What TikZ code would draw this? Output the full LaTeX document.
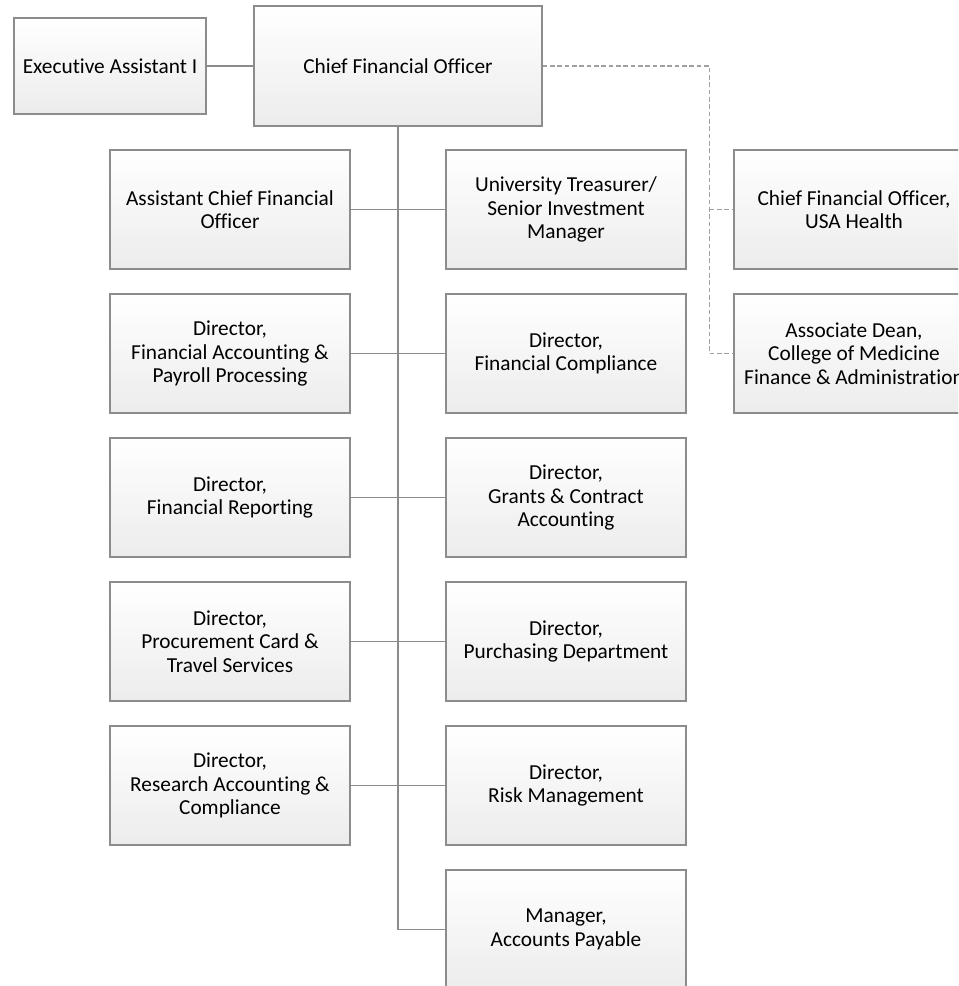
\documentclass[tikz,border=0pt]{standalone}
\usepackage{fontspec}
\setmainfont{Carlito}[Ligatures=NoCommon]
\usepackage{xcolor}
\usetikzlibrary{calc,positioning}
\definecolor{boxline}{HTML}{8C8C8C}
\definecolor{boxlow}{HTML}{ECECEC}
\definecolor{dashline}{HTML}{A0A0A0}
\begin{document}
\begin{tikzpicture}[x=0.75pt,y=-0.75pt,
		post/.style={draw=boxline,line width=0.9pt,top color=white,bottom color=boxlow,
			minimum width=180pt,minimum height=89.25pt,inner sep=2pt,align=center,
			font=\fontsize{16}{17.5}\selectfont},
		link/.style={draw=boxline,line width=0.9pt},
		dotlink/.style={draw=dashline,line width=0.9pt,dash pattern=on 3.5pt off 2pt}]
		\clip (0,0) rectangle (958,986);
		\useasboundingbox (0,0) rectangle (958,986);
		% top row
		\node[post,minimum width=144pt,minimum height=72pt] (exec) at (110,66) {Executive Assistant I};
		\node[post,minimum width=216pt,minimum height=90pt] (cfo) at (398,66) {Chief Financial Officer};
		% left column
		\node[post] (acfo) at (230,209.5) {Assistant Chief Financial\\Officer};
		\node[post] (facct) at (230,353.5) {Director,\\Financial Accounting \&\\Payroll Processing};
		\node[post] (frep) at (230,497.5) {Director,\\Financial Reporting};
		\node[post] (pcard) at (230,641.5) {Director,\\Procurement Card \&\\Travel Services};
		\node[post] (racct) at (230,785.5) {Director,\\Research Accounting \&\\Compliance};
		% right column
		\node[post] (treas) at (566,209.5) {University Treasurer/\\Senior Investment\\Manager};
		\node[post] (fcomp) at (566,353.5) {Director,\\Financial Compliance};
		\node[post] (grants) at (566,497.5) {Director,\\Grants \& Contract\\Accounting};
		\node[post] (purch) at (566,641.5) {Director,\\Purchasing Department};
		\node[post] (risk) at (566,785.5) {Director,\\Risk Management};
		\node[post] (ap) at (566,929.5) {Manager,\\Accounts Payable};
		% dotted line reports
		\node[post] (usah) at (854,209.5) {Chief Financial Officer,\\USA Health};
		\node[post] (dean) at (854,353.5) {Associate Dean,\\College of Medicine\\Finance \& Administration};

		\draw[link] (exec.east) -- (cfo.west);
		\draw[link] (cfo.south) |- (ap.west);
		\draw[link] (acfo.east) -- (treas.west);
		\draw[link] (facct.east) -- (fcomp.west);
		\draw[link] (frep.east) -- (grants.west);
		\draw[link] (pcard.east) -- (purch.west);
		\draw[link] (racct.east) -- (risk.west);

		\coordinate (dv) at (709.5,66);
		\draw[dotlink] (cfo.east) -- (dv) |- (dean.west);
		\draw[dotlink] (dv |- usah.west) -- (usah.west);
	\end{tikzpicture}
\end{document}
